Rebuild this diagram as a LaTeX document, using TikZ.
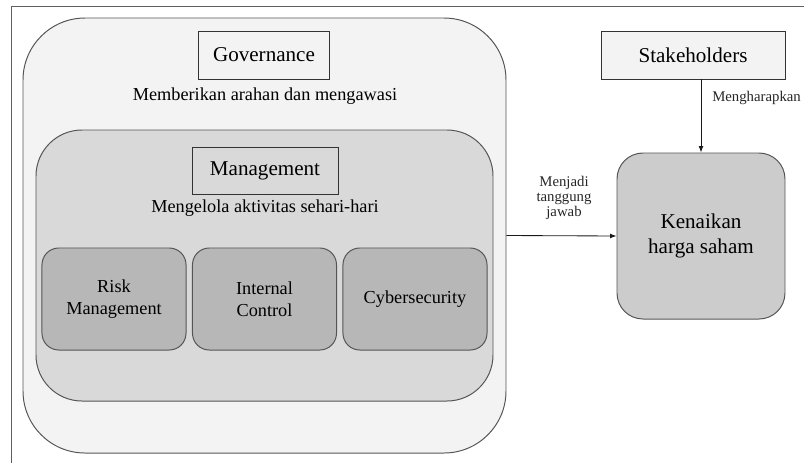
\documentclass[tikz,border=0pt]{standalone}
\usepackage{fontspec}
\setmainfont{Liberation Serif}
\usepackage{xcolor}
\usetikzlibrary{arrows.meta, positioning}
\definecolor{govfill}{HTML}{F3F3F3}
\definecolor{mgmtfill}{HTML}{D9D9D9}
\definecolor{subfill}{HTML}{B7B7B7}
\definecolor{goalfill}{HTML}{CCCCCC}
\definecolor{edgegray}{HTML}{555555}

\begin{document}
\begin{tikzpicture}[x=0.025cm, y=-0.025cm,
    panel/.style={draw=edgegray, line width=0.7pt, inner sep=0},
    tagbox/.style={draw=black!80, line width=0.6pt, inner sep=0, font=\fontsize{15}{17}\selectfont},
    subbox/.style={panel, fill=subfill, rounded corners=0.42cm, minimum width=3.6cm, minimum height=2.55cm,
          align=center, font=\fontsize{13}{15.5}\selectfont},
    note/.style={inner sep=0, align=center, font=\fontsize{10.5}{10.8}\selectfont, text=black!85},
    arr/.style={-{Latex[length=1.6mm, width=1.2mm]}, draw=black!90, line width=0.6pt}]
  \def\px{0.025cm}
  \useasboundingbox (0,0) rectangle (804,463);
  %% page frame (cut by the picture edge)
  \draw[gray!75!black, line width=0.6pt] (11,463) -- (11,6) -- (804,6);

  %% Governance layer
  \node[panel, fill=govfill, rounded corners=1.55cm, minimum width={483*\px}, minimum height={435*\px}]
        (gov) at (264.5,235.5) {};
  \node[tagbox, minimum width={131*\px}, minimum height={48*\px}] (govtag) at (264,55) {Governance};
  \node[inner sep=0, font=\fontsize{13}{15}\selectfont] (govtxt) at (265,96) {Memberikan arahan dan mengawasi};

  %% Management layer
  \node[panel, fill=mgmtfill, rounded corners=1.15cm, minimum width={457*\px}, minimum height={271*\px}]
        (mgmt) at (264.5,265.5) {};
  \node[tagbox, minimum width={146*\px}, minimum height={47*\px}] (mgmttag) at (265,170.5) {Management};
  \node[inner sep=0, font=\fontsize{13}{15}\selectfont] (mgmttxt) at (265,208) {Mengelola aktivitas sehari-hari};

  %% Functions under management
  \foreach \name/\txt/\x in {risk/{Risk\\Management}/114,ctrl/{Internal\\Control}/264.5,cyber/Cybersecurity/415}{
    \node[subbox] (\name) at (\x,299) {\txt};
  }

  %% Stakeholders and goal
  \node[tagbox, fill=govfill, minimum width={184*\px}, minimum height={48*\px}] (stake) at (693,55) {Stakeholders};
  \node[panel, fill=goalfill, rounded corners=0.65cm, minimum width={168*\px}, minimum height={166*\px},
        align=center, font=\fontsize{15}{17.5}\selectfont] (goal) at (701,236) {Kenaikan\\harga saham};

  %% Connectors
  \draw[arr] (stake.south -| goal.north) -- (goal.north);
  \node[note, anchor=west] (expect) at (712,98) {Mengharapkan};
  \draw[arr] (gov.east) -- (goal.west);
  \node[note] (resp) at (564,198) {Menjadi\\tanggung\\jawab};
\end{tikzpicture}
\end{document}
